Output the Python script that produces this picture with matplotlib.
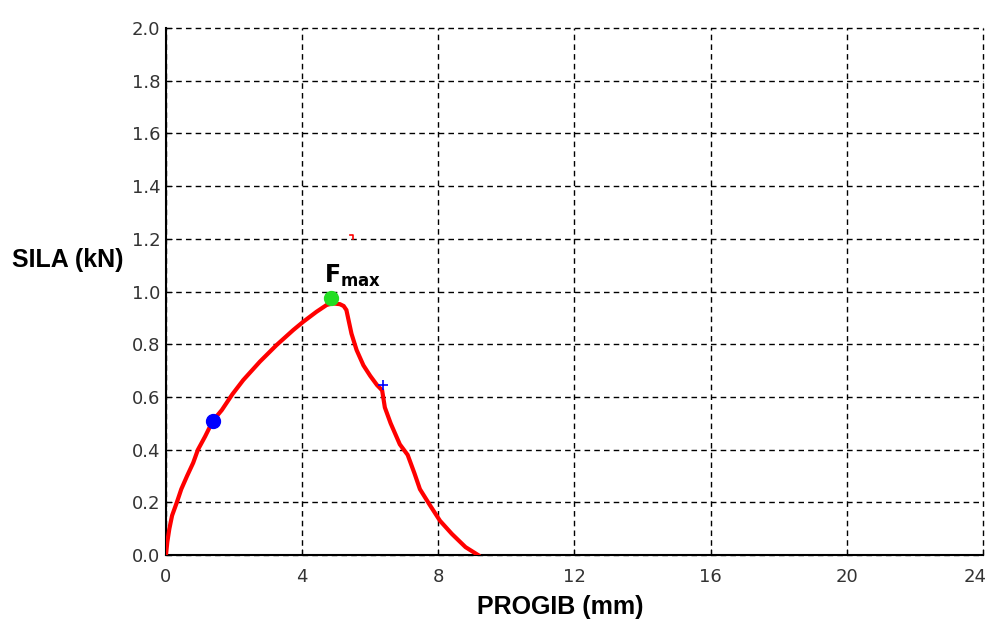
import matplotlib.pyplot as plt
import matplotlib.transforms as mtransforms
import numpy as np

# force-deflection curve
progib = [0.0, 0.04, 0.1, 0.18, 0.32, 0.45, 0.62, 0.8, 0.94, 1.15, 1.38, 1.64,
          1.95, 2.27, 2.76, 3.25, 3.74, 4.03, 4.42, 4.72, 4.9, 5.11, 5.22, 5.3,
          5.45, 5.6, 5.8, 6.0, 6.2, 6.35, 6.43, 6.6, 6.87, 7.1, 7.3, 7.46, 7.75,
          8.05, 8.4, 8.8, 9.17]
sila = [0.0, 0.05, 0.1, 0.15, 0.2, 0.25, 0.3, 0.35, 0.4, 0.45, 0.51, 0.55,
        0.61, 0.664, 0.734, 0.797, 0.854, 0.885, 0.923, 0.949, 0.955, 0.952, 0.945, 0.93,
        0.84, 0.778, 0.72, 0.68, 0.645, 0.625, 0.56, 0.50, 0.42, 0.38, 0.31, 0.25, 0.19,
        0.13, 0.08, 0.03, 0.0]

# markers
blue_x, blue_y = 1.38, 0.51
fmax_x, fmax_y = 4.85, 0.975
plus_x, plus_y = 6.37, 0.645
stray_x = [5.42, 5.5, 5.5]
stray_y = [1.215, 1.215, 1.20]

xticks = [0, 4, 8, 12, 16, 20, 24]
yticks = [0.0, 0.2, 0.4, 0.6, 0.8, 1.0, 1.2, 1.4, 1.6, 1.8, 2.0]

fig = plt.figure(figsize=(9.92, 6.23), dpi=100)
ax = fig.add_axes([0.1673, 0.1091, 0.8236, 0.8459])

ax.plot(progib, sila, color='red', lw=3, solid_joinstyle='miter', zorder=3)
ax.plot(stray_x, stray_y, color='red', lw=1.2, zorder=3)
ax.plot(blue_x, blue_y, 'o', color='blue', ms=10, zorder=4)
ax.plot(fmax_x, fmax_y, 'o', color='#22dd22', ms=10, zorder=4)
ax.plot(plus_x, plus_y, '+', color='blue', ms=7, mew=1.2, zorder=4)
ax.text(5.47, 1.035, r'$\mathbf{F_{max}}$', fontsize=17, ha='center', va='baseline')

ax.set_xlim(0, 24)
ax.set_ylim(0, 2.0)
ax.set_xticks(xticks)
ax.set_yticks(yticks)
ax.set_xticklabels([str(t) for t in xticks])
ax.set_yticklabels([f'{t:.1f}' for t in yticks])
ax.tick_params(direction='in', length=4, labelsize=13, labelcolor='#333333')
ax.tick_params(axis='x', pad=9)
ax.tick_params(axis='y', pad=4)
ax.grid(True, color='black', linestyle=(0, (4, 3)), lw=1)
for gl in ax.xaxis.get_gridlines() + ax.yaxis.get_gridlines():
    gl.set_clip_on(False)
ax.spines['top'].set_visible(False)
ax.spines['right'].set_visible(False)
ax.spines['left'].set_linewidth(1.5)
ax.spines['bottom'].set_linewidth(1.5)

# last x label sits a bit left so it stays inside the picture
last = ax.get_xticklabels()[-1]
last.set_transform(last.get_transform() +
                   mtransforms.ScaledTranslation(-8 / 100, 0, fig.dpi_scale_trans))

fig.text(0.068, 0.583, 'SILA (kN)', fontsize=18, fontweight='bold',
         family='Liberation Sans', ha='center', va='center')
fig.text(0.5645, 0.026, 'PROGIB (mm)', fontsize=18, fontweight='bold',
         family='Liberation Sans', ha='center', va='center')

fig.savefig('out.png', dpi=100)
